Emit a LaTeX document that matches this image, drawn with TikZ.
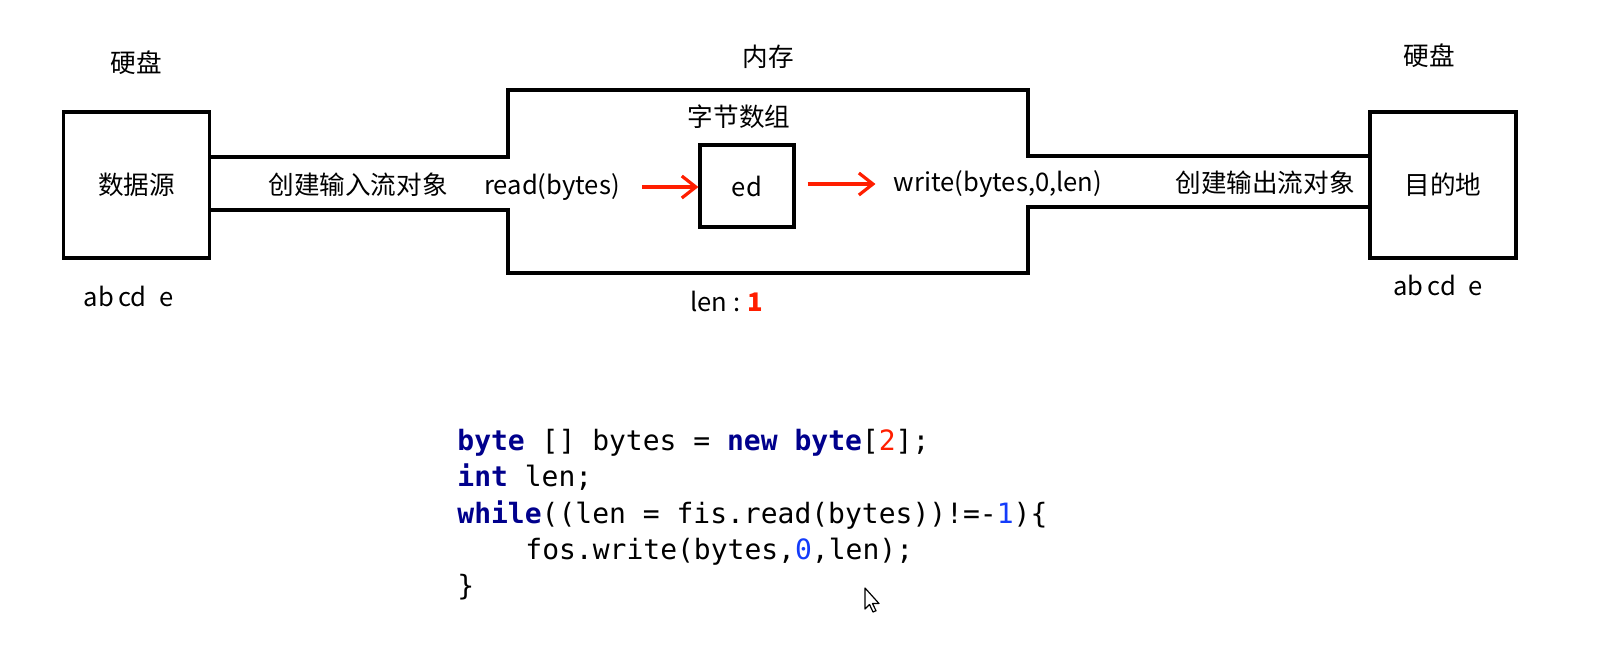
\documentclass[tikz,border=0pt]{standalone}
\usepackage{fontspec}
\usepackage{xcolor}
\usepackage{tikz}
\usetikzlibrary{arrows.meta,positioning}

\newfontfamily\cjk{Noto Sans CJK SC}
\newfontfamily\codefont{DejaVu Sans Mono}
\definecolor{kwblue}{RGB}{0,0,140}
\definecolor{hotred}{RGB}{255,30,0}
\definecolor{numblue}{RGB}{20,60,250}
\newcommand\kw[1]{{\bfseries\color{kwblue}#1}}

\begin{document}
\begin{tikzpicture}[
  x=0.5pt,y=-0.5pt,
  disk/.style={draw,line width=1.6pt,minimum width=73pt,minimum height=73pt,inner sep=0pt,font=\cjk\fontsize{12.8}{15}\selectfont},
  tag/.style={inner sep=0pt,font=\cjk\fontsize{12.8}{15}\selectfont},
  wire/.style={line width=1.6pt},
  push/.style={-{Straight Barb[length=7pt,width=11pt]},line width=1.6pt,hotred},
  codeline/.style={anchor=base west,inner sep=0pt,font=\codefont\fontsize{14}{17.5}\selectfont}
]
  \useasboundingbox (0,0) rectangle (1599,645);

  % disks and memory
  \node[disk] (src) at (136.5,185) {数据源};
  \node[disk] (dst) at (1443,185) {目的地};
  \node[inner sep=0pt,outer sep=0pt,minimum width=260pt,minimum height=91.5pt] (mem) at (768,181.5) {};
  \node[disk,minimum width=47pt,minimum height=41pt] (buf) at (747,186) {ed};

  \node[tag,above=17.5pt of src] (srcdisk) {硬盘};
  \node[tag,above=21pt of dst,xshift=-7pt] (dstdisk) {硬盘};
  \node[tag,below=13pt of src,xshift=-4pt] (srcdata) {ab\,cd\enskip e};
  \node[tag,below=7.5pt of dst,xshift=-2.5pt] (dstdata) {ab\,cd\enskip e};
  \node[tag,above=10.5pt of mem] (memlabel) {内存};
  \node[tag,above=7pt of buf,xshift=-4pt] (buflabel) {字节数组};
  \node[tag,below=9pt of mem,xshift=-20.5pt] (len) {len : {\color{hotred}\bfseries 1}};

  % streams
  \coordinate (inT) at (508,157);
  \coordinate (inB) at (508,210);
  \coordinate (outT) at (1028,156);
  \coordinate (outB) at (1028,207);
  \draw[wire] (src.east |- inT) -- (inT) -- (mem.north west) -- (mem.north east) -- (outT) -- (dst.west |- outT);
  \draw[wire] (src.east |- inB) -- (inB) -- (mem.south west) -- (mem.south east) -- (outB) -- (dst.west |- outB);

  \node[tag] (instream) at (358,185) {创建输入流对象};
  \node[tag] (outstream) at (1265,183) {创建输出流对象};
  \node[tag] (read) at (552,187) {read(bytes)};
  \node[tag] (write) at (998,184) {write(bytes,0,len)};

  \draw[push,shorten <=11pt] (read.east) -- (buf.west |- read.east);
  \draw[push,shorten <=6pt,shorten >=9pt] (buf.east |- write.west) -- (write.west);

  % code
  \node[codeline] (code1) at (457,450) {\kw{byte} [] bytes = \kw{new} \kw{byte}[{\color{hotred}2}];};
  \node[codeline] (code2) at (457,486) {\kw{int} len;};
  \node[codeline] (code3) at (457,523) {\kw{while}((len = fis.read(bytes))!=-{\color{numblue}1})\{};
  \node[codeline] (code4) at (525,559) {fos.write(bytes,{\color{numblue}0},len);};
  \node[codeline] (code5) at (457,595) {\}};

  % mouse pointer
  \draw[line width=0.6pt,fill=white,line join=round] (865,588) -- ++(0,21) -- ++(4.5,-4.5) -- ++(3.5,7.5) -- ++(3,-1.3) -- ++(-3.5,-7.2) -- ++(6.5,0) -- cycle;
\end{tikzpicture}
\end{document}
